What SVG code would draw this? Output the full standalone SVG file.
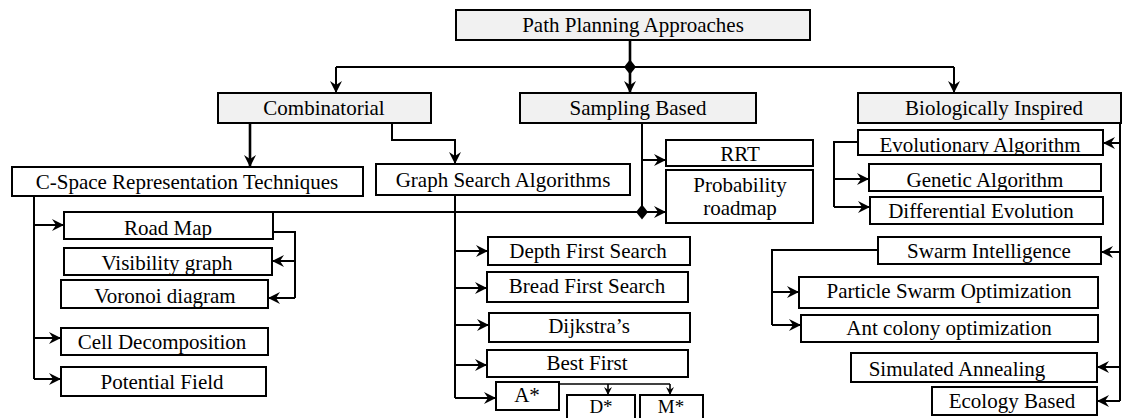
<svg xmlns="http://www.w3.org/2000/svg" xmlns:xlink="http://www.w3.org/1999/xlink" width="1126" height="418" viewBox="0 0 1126 418">
<defs>
<style>
.box{fill:#ffffff;stroke:#000;stroke-width:2}
.hd{fill:#f1f1f1;stroke:#000;stroke-width:2}
.t{font-family:"Liberation Serif","Times New Roman",serif;font-size:21px;fill:#000;text-anchor:middle}
.ts{font-size:19px}
.c{fill:none;stroke:#000;stroke-width:2}
.ck{fill:none;stroke:#000;stroke-width:2.6}
.cs{fill:none;stroke:#000;stroke-width:1.6}
.a{marker-end:url(#ah)}
.as{marker-end:url(#ahs)}
</style>
<marker id="ah" viewBox="0 0 12 12" refX="12" refY="6" markerWidth="12" markerHeight="12" markerUnits="userSpaceOnUse" orient="auto">
<path d="M0,0 L12,6 L0,12 L4,6 Z" fill="#000"/>
</marker>
<marker id="ahs" viewBox="0 0 12 12" refX="12" refY="6" markerWidth="8" markerHeight="8" markerUnits="userSpaceOnUse" orient="auto">
<path d="M0,0 L12,6 L0,12 L4,6 Z" fill="#000"/>
</marker>
<path id="dia" d="M0,-7.5 L6,0 L0,7.5 L-6,0 Z" fill="#000"/>
</defs>
<rect x="0" y="0" width="1126" height="418" fill="#fff"/>

<g id="connectors">
<path class="ck a" d="M630,40 V93"/>
<path class="c" d="M336,67 H954"/>
<path class="c a" d="M336,67 V93"/>
<path class="c a" d="M954,67 V93"/>
<use xlink:href="#dia" x="630" y="67"/>
<path class="ck a" d="M250,123 V167"/>
<path class="c a" d="M392,123 V140 H455 V164"/>
<path class="c" d="M34,196 V379"/>
<path class="c a" d="M34,225 H64"/>
<path class="c a" d="M34,338 H61"/>
<path class="c a" d="M34,379 H61"/>
<path class="c" d="M273,232 H295 V298"/>
<path class="c a" d="M295,261 H272"/>
<path class="c a" d="M295,298 H268"/>
<path class="c a" d="M265,212 H666"/>
<path class="c" d="M642,123 V212"/>
<path class="c a" d="M642,160 H666"/>
<use xlink:href="#dia" x="642" y="212"/>
<path class="c" d="M455,195 V398"/>
<path class="c a" d="M455,251 H488"/>
<path class="c a" d="M455,288 H487"/>
<path class="c a" d="M455,325 H489"/>
<path class="c a" d="M455,365 H487"/>
<path class="c a" d="M455,398 H496"/>
<path class="cs" d="M559,384 H670"/>
<path class="cs as" d="M608,384 V395"/>
<path class="cs as" d="M670,384 V395"/>
<path class="c" d="M1120,123 V401"/>
<path class="c a" d="M1120,143 H1103"/>
<path class="c a" d="M1120,252 H1101"/>
<path class="c a" d="M1120,367 H1097"/>
<path class="c a" d="M1120,401 H1097"/>
<path class="c" d="M858,142 H834 V207"/>
<path class="c a" d="M834,179 H869"/>
<path class="c a" d="M834,207 H870"/>
<path class="c" d="M878,250 H772 V325"/>
<path class="c a" d="M772,292 H799"/>
<path class="c a" d="M772,325 H801"/>
</g>

<g id="n-path"><rect class="hd" x="456" y="10" width="354" height="30"/><text class="t" x="633" y="32">Path Planning Approaches</text></g>
<g id="n-comb"><rect class="hd" x="218" y="93" width="213" height="30"/><text class="t" x="324" y="115">Combinatorial</text></g>
<g id="n-samp"><rect class="hd" x="520" y="93" width="236" height="30"/><text class="t" x="638" y="115">Sampling Based</text></g>
<g id="n-bio"><rect class="hd" x="858" y="93" width="263" height="30"/><text class="t" x="994" y="115">Biologically Inspired</text></g>

<g id="n-cspace"><rect class="box" x="12" y="167" width="351" height="29"/><svg x="12" y="167" width="351" height="29" viewBox="12 167 351 29"><text class="t" x="187" y="189">C-Space Representation Techniques</text></svg></g>
<g id="n-graph"><rect class="box" x="376" y="164" width="254" height="31"/><svg x="376" y="164" width="254" height="31" viewBox="376 164 254 31"><text class="t" x="503" y="187">Graph Search Algorithms</text></svg></g>
<g id="n-rrt"><rect class="box" x="666" y="140" width="147" height="26"/><text class="t" x="740" y="161">RRT</text></g>
<g id="n-prob"><rect class="box" x="666" y="170" width="147" height="53"/><text class="t" x="740" y="192">Probability</text><text class="t" x="740" y="215">roadmap</text></g>

<g id="n-roadmap"><rect class="box" x="64" y="212" width="209" height="27"/><svg x="64" y="212" width="209" height="27" viewBox="64 212 209 27"><text class="t" x="168" y="235">Road Map</text></svg></g>
<g id="n-visibility"><rect class="box" x="64" y="248" width="208" height="27"/><svg x="64" y="248" width="208" height="26" viewBox="64 248 208 26"><text class="t" x="167" y="270">Visibility graph</text></svg></g>
<g id="n-voronoi"><rect class="box" x="61" y="280" width="207" height="28"/><svg x="61" y="280" width="207" height="27" viewBox="61 280 207 27"><text class="t" x="165" y="303">Voronoi diagram</text></svg></g>
<g id="n-cell"><rect class="box" x="61" y="328" width="207" height="27"/><svg x="61" y="328" width="207" height="27" viewBox="61 328 207 27"><text class="t" x="162" y="349">Cell Decomposition</text></svg></g>
<g id="n-potential"><rect class="box" x="61" y="367" width="205" height="29"/><svg x="61" y="367" width="205" height="29" viewBox="61 367 205 29"><text class="t" x="162" y="389">Potential Field</text></svg></g>

<g id="n-depth"><rect class="box" x="488" y="237" width="202" height="28"/><text class="t" x="588" y="258">Depth First Search</text></g>
<g id="n-bread"><rect class="box" x="487" y="272" width="201" height="30"/><text class="t" x="587" y="293">Bread First Search</text></g>
<g id="n-dijkstra"><rect class="box" x="489" y="313" width="201" height="29"/><svg x="489" y="313" width="201" height="29" viewBox="489 313 201 29"><text class="t" x="589" y="333">Dijkstra’s</text></svg></g>
<g id="n-best"><rect class="box" x="487" y="350" width="201" height="27"/><text class="t" x="587" y="370">Best First</text></g>
<g id="n-astar"><rect class="box" x="496" y="382" width="63" height="28"/><text class="t" x="527" y="402">A*</text></g>
<g id="n-dstar"><rect class="box" x="567" y="395" width="68" height="30"/><text class="t ts" x="601" y="413">D*</text></g>
<g id="n-mstar"><rect class="box" x="640" y="395" width="63" height="30"/><text class="t ts" x="671" y="413">M*</text></g>

<g id="n-evol"><rect class="box" x="858" y="130" width="245" height="25"/><svg x="858" y="130" width="245" height="24" viewBox="858 130 245 24"><text class="t" x="980" y="152">Evolutionary Algorithm</text></svg></g>
<g id="n-genetic"><rect class="box" x="869" y="164" width="232" height="27"/><svg x="869" y="164" width="232" height="26" viewBox="869 164 232 26"><text class="t" x="985" y="187">Genetic Algorithm</text></svg></g>
<g id="n-diff"><rect class="box" x="870" y="197" width="233" height="27"/><text class="t" x="981" y="218">Differential Evolution</text></g>
<g id="n-swarm"><rect class="box" x="878" y="237" width="223" height="27"/><svg x="878" y="237" width="223" height="26" viewBox="878 237 223 26"><text class="t" x="989" y="258">Swarm Intelligence</text></svg></g>
<g id="n-pso"><rect class="box" x="799" y="277" width="299" height="31"/><text class="t" x="949" y="298">Particle Swarm Optimization</text></g>
<g id="n-ant"><rect class="box" x="801" y="315" width="297" height="27"/><text class="t" x="949" y="335">Ant colony optimization</text></g>
<g id="n-sa"><rect class="box" x="851" y="353" width="246" height="29"/><svg x="851" y="353" width="246" height="28" viewBox="851 353 246 28"><text class="t" x="957" y="376">Simulated Annealing</text></svg></g>
<g id="n-eco"><rect class="box" x="932" y="387" width="165" height="28"/><svg x="932" y="387" width="165" height="27" viewBox="932 387 165 27"><text class="t" x="1012" y="408">Ecology Based</text></svg></g>
</svg>
